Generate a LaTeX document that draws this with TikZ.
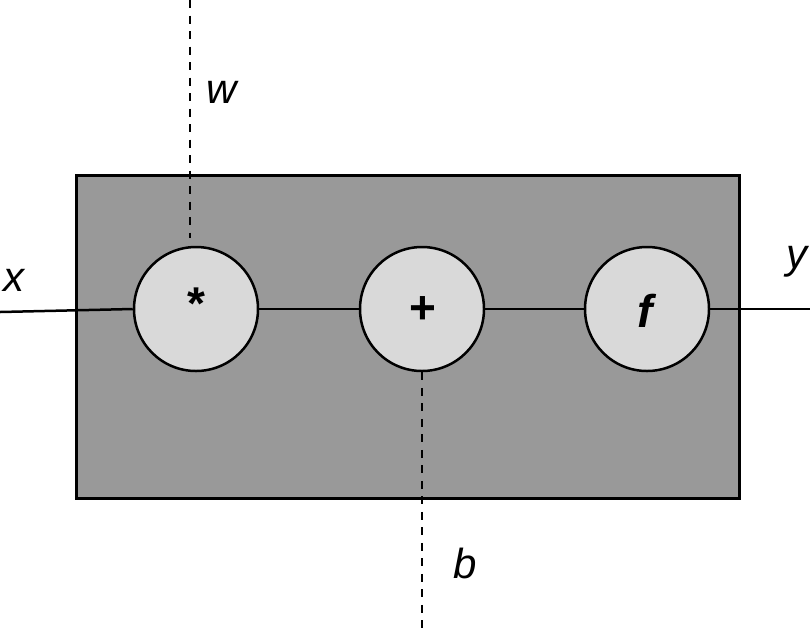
\documentclass[tikz,border=0pt]{standalone}
\usepackage{fontspec}
\setmainfont{Liberation Sans}
\begin{document}
\begin{tikzpicture}[x=1pt,y=-1pt,
  unit/.style={circle,draw=black,line width=2.5pt,fill=cfill,minimum size=124pt,inner sep=0pt},
  wire/.style={line width=2.5pt},
  dwire/.style={line width=2.6pt,dash pattern=on 8pt off 7.5pt},
  lab/.style={font=\fontsize{42}{50}\selectfont\itshape,inner sep=0pt},
  sym/.style={font=\fontsize{46}{54}\selectfont\bfseries,inner sep=0pt}]
\definecolor{cfill}{HTML}{D9D9D9}
\definecolor{bfill}{HTML}{999999}
\useasboundingbox (0,0) rectangle (810,633);
\node[draw=black,line width=2.5pt,fill=bfill,minimum width=663pt,minimum height=323pt,inner sep=0pt,anchor=north west] (box) at (75,174) {};
\node[unit] (mul) at (196,309) {};
\node[sym] (mulsym) at (196,304) {*};
\node[unit] (add) at (422,309) {};
\node[sym] (addsym) at (423,310) {+};
\node[unit] (fn) at (647,309) {};
\node[sym,font=\fontsize{46}{54}\selectfont\bfseries\itshape] (fnsym) at (645,311) {f};
\coordinate (xin) at (0,312);
\coordinate (yout) at (810,309);
\coordinate (wtop) at (190,0);
\coordinate (wend) at (190,238);
\coordinate (bend) at (422,633);
\draw[wire] (xin) -- (mul.west);
\draw[wire] (mul.east) -- (add.west);
\draw[wire] (add.east) -- (fn.west);
\draw[wire] (fn.east) -- (yout);
\draw[dwire] (wtop) -- (wend);
\draw[dwire] (add.south) -- (bend);
\node[lab] (xl) at (14,280) {x};
\node[lab] (wl) at (222,92) {w};
\node[lab] (yl) at (797,262) {y};
\node[lab] (bl) at (465,563) {b};
\end{tikzpicture}
\end{document}
